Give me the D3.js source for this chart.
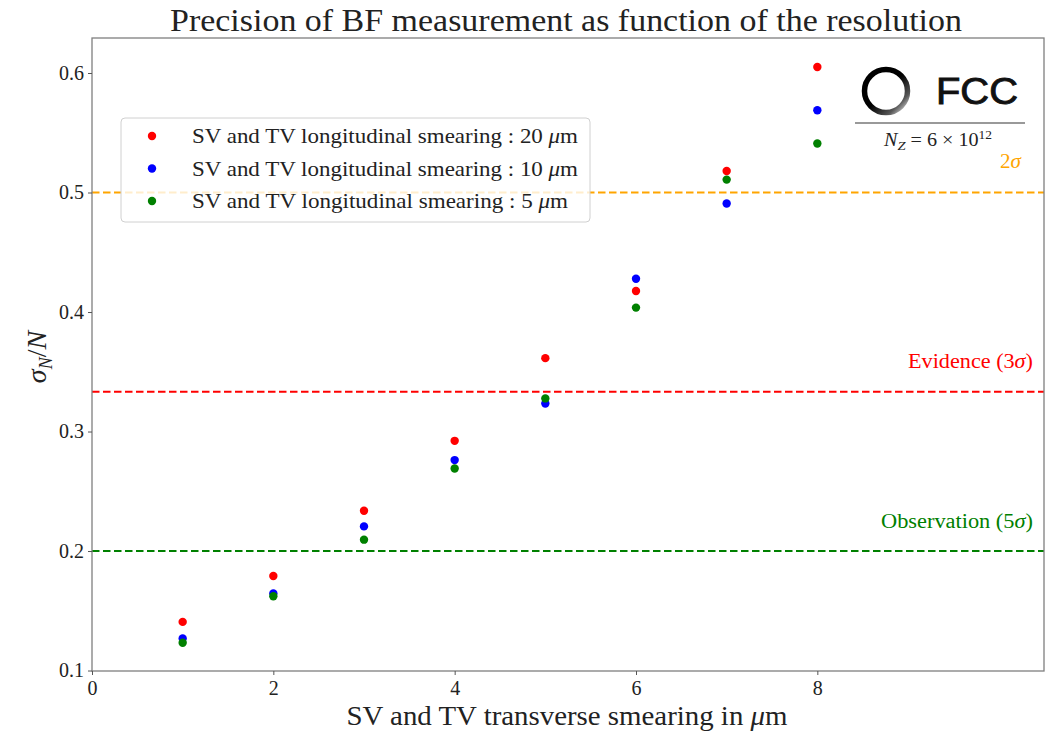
<!DOCTYPE html>
<html><head><meta charset="utf-8">
<script src="https://cdn.jsdelivr.net/npm/d3@7"></script>
<style>body{margin:0;background:#fff}svg{display:block}text{font-family:"Liberation Serif","DejaVu Serif",serif;fill:#222}</style>
</head><body><svg id="c" width="1047" height="732"></svg>
<script>
const xValues = [1,2,3,4,5,6,7,8];
const series20 = [0.1407,0.1791,0.2337,0.2922,0.3614,0.4176,0.5180,0.6050];
const series10 = [0.1269,0.1644,0.2206,0.2761,0.3235,0.4279,0.4908,0.5688];
const series5  = [0.1232,0.1622,0.2095,0.2691,0.3277,0.4037,0.5108,0.5410];
const seriesNames = ["SV and TV longitudinal smearing : 20 \u03BCm","SV and TV longitudinal smearing : 10 \u03BCm","SV and TV longitudinal smearing : 5 \u03BCm"];
const seriesColors = ["#ff0000","#0000ff","#008000"];
const xTicks = [0,2,4,6,8];
const yTicks = [0.1,0.2,0.3,0.4,0.5,0.6];
const thresholds = [0.5, 1/3, 0.2];
const thresholdColors = ["#ffa500","#ff0000","#008000"];

const svg = d3.select("#c");
const L=92,R=1044,T=38,B=671;
const x = d3.scaleLinear().domain([0,10.5]).range([L,R]);
const y = d3.scaleLinear().domain([0.0996,0.6293]).range([B,T]);

svg.selectAll("line.th").data(thresholds).enter().append("line")
  .attr("x1",L).attr("x2",R).attr("y1",d=>y(d)).attr("y2",d=>y(d))
  .attr("stroke",(d,i)=>thresholdColors[i]).attr("stroke-width",2).attr("stroke-dasharray","7.5,3.5");

const all=[series20,series10,series5];
all.forEach((s,si)=>{
  svg.selectAll(null).data(s).enter().append("circle")
    .attr("cx",(d,i)=>x(xValues[i])).attr("cy",d=>y(d)).attr("r",4.2).attr("fill",seriesColors[si]);
});

svg.append("rect").attr("x",L).attr("y",T).attr("width",R-L).attr("height",B-T)
  .attr("fill","none").attr("stroke","#7f7f7f").attr("stroke-width",1.3);

const xa = svg.append("g").attr("transform",`translate(0,${B})`)
  .call(d3.axisBottom(x).tickValues(xTicks).tickFormat(d3.format("d")).tickSize(4).tickPadding(6));
const ya = svg.append("g").attr("transform",`translate(${L},0)`)
  .call(d3.axisLeft(y).tickValues(yTicks).tickFormat(d3.format(".1f")).tickSize(4).tickPadding(4));
[xa,ya].forEach(a=>{a.select(".domain").remove();a.selectAll("line").attr("stroke","#555");
  a.selectAll("text").style("font-size","20px").style("font-family",'"Liberation Serif",serif').attr("fill","#333");});

svg.append("text").attr("x",566).attr("y",31).attr("text-anchor","middle").style("font-size","32px")
  .attr("textLength",792).attr("lengthAdjust","spacingAndGlyphs").text("Precision of BF measurement as function of the resolution");
const xl = svg.append("text").attr("x",567).attr("y",725).attr("text-anchor","middle").style("font-size","27px")
  .attr("textLength",441).attr("lengthAdjust","spacingAndGlyphs");
xl.append("tspan").text("SV and TV transverse smearing in ");
xl.append("tspan").attr("font-style","italic").text("\u03BC");
xl.append("tspan").text("m");

const yl = svg.append("text").attr("transform","translate(46,357) rotate(-90)").attr("text-anchor","middle").style("font-size","28px");
yl.append("tspan").attr("font-style","italic").text("\u03C3");
yl.append("tspan").attr("font-style","italic").attr("dy",6).style("font-size","18px").text("N");
yl.append("tspan").attr("dy",-6).text("/");
yl.append("tspan").attr("font-style","italic").text("N");

const thLabels = [
 {t:["2","\u03C3"], y:0.5, c:"#ffa500", dy:-25, xe:1021, w:21},
 {t:["Evidence (3","\u03C3",")"], y:1/3, c:"#ff0000", dy:-24, xe:1033, w:125},
 {t:["Observation (5","\u03C3",")"], y:0.2, c:"#008000", dy:-23, xe:1033, w:152}];
thLabels.forEach(o=>{
  const t = svg.append("text").attr("x",o.xe).attr("y",y(o.y)+o.dy).attr("text-anchor","end").style("font-size","20px").style("fill",o.c)
    .attr("textLength",o.w).attr("lengthAdjust","spacingAndGlyphs");
  o.t.forEach((s,i)=>t.append("tspan").attr("font-style",i===1?"italic":"normal").style("fill",o.c).text(s));
});

const lg = svg.append("g");
lg.append("rect").attr("x",121).attr("y",118).attr("width",469).attr("height",104).attr("rx",4)
  .attr("fill","white").attr("fill-opacity",0.8).attr("stroke","#d0d0d0").attr("stroke-width",1);
const legW=[386,386,376];
seriesNames.forEach((n,i)=>{
  const yy = 136+i*32.5;
  lg.append("circle").attr("cx",152).attr("cy",yy).attr("r",4.2).attr("fill",seriesColors[i]);
  const parts = n.split("\u03BCm");
  const t = lg.append("text").attr("x",192).attr("y",yy+7).style("font-size","22px").attr("fill","#333")
    .attr("textLength",legW[i]).attr("lengthAdjust","spacingAndGlyphs");
  t.append("tspan").text(parts[0]);
  t.append("tspan").attr("font-style","italic").text("\u03BC");
  t.append("tspan").text("m");
});

const defs = svg.append("defs");
const gr = defs.append("linearGradient").attr("id","ring").attr("x1","0").attr("y1","0").attr("x2","1").attr("y2","1");
gr.append("stop").attr("offset","0.5").attr("stop-color","#000");
gr.append("stop").attr("offset","0.8").attr("stop-color","#555");
gr.append("stop").attr("offset","1").attr("stop-color","#eee");
svg.append("circle").attr("cx",886).attr("cy",91).attr("r",21.5).attr("fill","none").attr("stroke","url(#ring)").attr("stroke-width",5.5);
svg.append("text").attr("x",936).attr("y",104).style("font-family","'Liberation Sans',Arial,sans-serif").style("font-size","37px").style("fill","#111")
  .style("stroke","#111").style("stroke-width","0.9")
  .attr("textLength",82).attr("lengthAdjust","spacingAndGlyphs").text("FCC");
svg.append("line").attr("x1",855).attr("x2",1025).attr("y1",123).attr("y2",123).attr("stroke","#777").attr("stroke-width",1.5);
const nz = svg.append("text").attr("x",938).attr("y",146).attr("text-anchor","middle").style("font-size","18px").style("fill","#222")
  .attr("textLength",108).attr("lengthAdjust","spacingAndGlyphs");
nz.append("tspan").attr("font-style","italic").text("N");
nz.append("tspan").attr("font-style","italic").attr("dy",4).style("font-size","13px").text("Z");
nz.append("tspan").attr("dy",-4).text(" = 6 \u00D7 10");
nz.append("tspan").attr("dy",-7).style("font-size","12px").text("12");
</script></body></html>
